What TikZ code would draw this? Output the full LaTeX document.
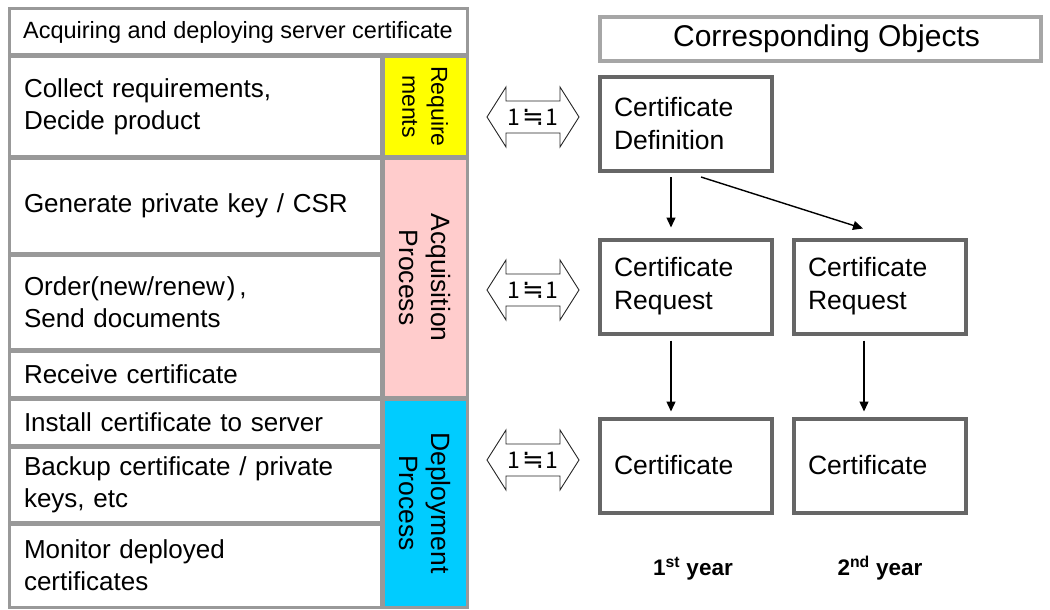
\documentclass[tikz,border=0pt]{standalone}
\usepackage{fontspec}
\setmainfont{Liberation Sans}
\newfontfamily\cjkfont{Noto Sans CJK JP}
\newfontfamily\symfont{DejaVu Sans}
\usetikzlibrary{arrows.meta}
\definecolor{cellgray}{HTML}{999999}
\definecolor{boxgray}{HTML}{666666}
\definecolor{headgray}{HTML}{A6A6A6}
\definecolor{reqyellow}{HTML}{FFFF00}
\definecolor{acqpink}{HTML}{FFCCCC}
\definecolor{depblue}{HTML}{00CCFF}
\tikzset{
  eqarrow/.pic={
    \draw[line width=0.9pt, draw=black!85, fill=white]
      (-46,0) -- (-27,-30) -- (-27,-16) -- (27,-16) -- (27,-30) -- (46,0)
      -- (27,30) -- (27,16) -- (-27,16) -- (-27,30) -- cycle;
    \node[font=\cjkfont\fontsize{23}{23}\selectfont, inner sep=0pt] (-label) at (0,0)
      {1\kern1.5pt{\symfont\fontsize{26}{26}\selectfont ≒}\kern1.5pt1};
  }
}
\begin{document}
\begin{tikzpicture}[x=1pt, y=-1pt,
  cell/.style={draw=cellgray, line width=3pt, rectangle, inner xsep=15pt, inner ysep=0pt,
    text width=342pt, align=left, minimum height=#1,
    font=\fontsize{26}{32}\selectfont},
  headcell/.style={draw=cellgray, line width=3pt, rectangle, inner sep=0pt,
    minimum width=458pt, minimum height=46pt, align=center,
    font=\fontsize{23.5}{28}\selectfont},
  phase/.style={draw=cellgray, line width=3pt, rectangle, rotate=-90, inner sep=0pt,
    minimum height=84pt, minimum width=#1, align=center,
    font=\fontsize{26.5}{32}\selectfont},
  objbox/.style={draw=boxgray, line width=4pt, rectangle, inner xsep=14pt, inner ysep=0pt,
    text width=144pt, minimum height=94pt, align=left,
    font=\fontsize{26.5}{33}\selectfont},
  objhead/.style={draw=headgray, line width=4pt, rectangle, inner sep=0pt,
    minimum width=441pt, minimum height=44pt,
    font=\fontsize{30}{36}\selectfont},
  flow/.style={line width=1.4pt, -{Triangle[length=10pt, width=9pt]}},
  yearlabel/.style={anchor=base, font=\bfseries\fontsize{22.5}{27}\selectfont}
]
\useasboundingbox (0,0) rectangle (1050,610);

% process steps on the left
\node[headcell] (head) at (238,32) {Acquiring and deploying server certificate};
\node[cell=99pt]   (collect) at (195,106.5) {Collect requirements,\\Decide product};
\node[cell=95.5pt] (genkey)  at (195,205.75) {Generate private key / CSR};
\node[cell=93.5pt] (order)   at (195,302.25) {Order(new/renew\kern2pt)\kern4pt,\\Send documents};
\node[cell=46pt]   (receive) at (195,374) {Receive certificate};
\node[cell=46pt]   (install) at (195,422) {Install certificate to server};
\node[cell=75pt]   (backup)  at (195,484.5) {Backup certificate / private\\keys, etc};
\node[cell=83pt]   (monitor) at (195,565.5) {Monitor deployed\\certificates};

% phase labels
\node[phase=99pt, fill=reqyellow, font=\fontsize{23}{29}\selectfont] (reqphase) at (425,106.5) {Require\\ments};
\node[phase=239pt, fill=acqpink] (acqphase) at (425,277.5) {Acquisition\\Process};
\node[phase=208pt, fill=depblue] (depphase) at (425,503) {Deployment\\Process};

% correspondence markers
\pic (eqa) at (533,117) {eqarrow};
\pic (eqb) at (533,290) {eqarrow};
\pic (eqc) at (533,460) {eqarrow};

% corresponding objects on the right
\node[objhead] (objs) at (820.5,39) {\hspace*{12pt}Corresponding Objects};
\node[objbox] (def)   at (686,124)   {Certificate\\Definition};
\node[objbox] (req1)  at (686,286.5) {Certificate\\Request};
\node[objbox] (req2)  at (880,286.5) {Certificate\\Request};
\node[objbox] (cert1) at (686,465.5) {Certificate};
\node[objbox] (cert2) at (880,465.5) {Certificate};

\draw[flow] ([xshift=-15pt, yshift=-4pt]def.south) -- ([xshift=-15pt, yshift=10pt]req1.north);
\draw[flow] ([xshift=15pt, yshift=-4pt]def.south) -- ([xshift=-17pt, yshift=9pt]req2.north);
\draw[flow] ([xshift=-15pt, yshift=-5pt]req1.south) -- ([xshift=-15pt, yshift=5pt]cert1.north);
\draw[flow] ([xshift=-16pt, yshift=-5pt]req2.south) -- ([xshift=-16pt, yshift=5pt]cert2.north);

\node[yearlabel] (year1) at (693,575) {1\textsuperscript{st} year};
\node[yearlabel] (year2) at (880,575) {2\textsuperscript{nd} year};
\end{tikzpicture}
\end{document}
